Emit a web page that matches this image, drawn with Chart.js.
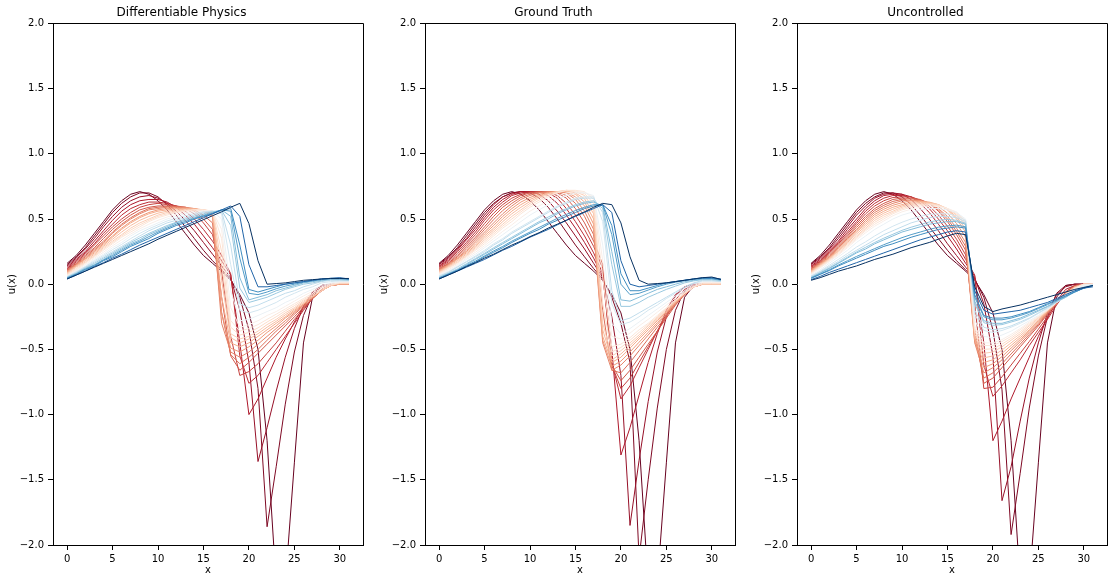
<!DOCTYPE html>
<html>
<head>
<meta charset="utf-8">
<script src="https://cdn.jsdelivr.net/npm/chart.js@4.4.0/dist/chart.umd.min.js"></script>
<style>
  body { margin: 0; background: #fff; }
  #wrap { position: relative; width: 1114px; height: 583px; }
  .panel { position: absolute; top: 0; width: 368px; height: 583px; }
</style>
</head>
<body>
<div id="wrap">
  <div class="panel" style="left:0px"><canvas id="c0" width="368" height="583"></canvas></div>
  <div class="panel" style="left:372px"><canvas id="c1" width="368" height="583"></canvas></div>
  <div class="panel" style="left:744px"><canvas id="c2" width="368" height="583"></canvas></div>
</div>
<script>
// grid points and ticks
const xs = [0,1,2,3,4,5,6,7,8,9,10,11,12,13,14,15,16,17,18,19,20,21,22,23,24,25,26,27,28,29,30,31];
const xTicks = [0, 5, 10, 15, 20, 25, 30];
const yTicks = [-2, -1.5, -1, -0.5, 0, 0.5, 1, 1.5, 2];
const titles = ['Differentiable Physics', 'Ground Truth', 'Uncontrolled'];

// time step of every drawn curve (out of 32), used for the colour
const steps = [0, 1, 2, 3, 4, 5, 6, 7, 8, 9, 10, 11, 12, 13, 14, 15, 17, 19, 20, 22, 23, 25, 26, 29, 32];

const initialState = [0.16,0.22,0.30,0.39,0.48,0.57,0.64,0.69,0.71,0.69,0.64,0.57,0.48,0.39,0.30,0.22,0.16,0.10,0.03,-0.08,-0.22,-0.50,-1.20,-2.30,-2.30,-1.37,-0.45,-0.10,-0.01,0.00,0.00,0.00];

const diffPhysics = [
  initialState,
  [0.15,0.21,0.28,0.37,0.46,0.55,0.62,0.67,0.70,0.70,0.67,0.61,0.53,0.44,0.35,0.26,0.18,0.11,0.04,-0.10,-0.35,-0.80,-1.86,-1.40,-0.92,-0.52,-0.24,-0.08,-0.01,0.00,0.00,0.00],
  [0.14,0.20,0.27,0.35,0.44,0.52,0.59,0.64,0.67,0.68,0.66,0.62,0.56,0.49,0.41,0.32,0.23,0.14,0.05,-0.20,-0.60,-1.36,-1.10,-0.82,-0.56,-0.34,-0.17,-0.06,-0.01,0.00,0.00,0.00],
  [0.13,0.19,0.25,0.33,0.41,0.49,0.56,0.61,0.64,0.65,0.65,0.63,0.59,0.53,0.46,0.37,0.28,0.18,0.07,-0.45,-1.00,-0.88,-0.72,-0.56,-0.42,-0.29,-0.17,-0.08,-0.02,0.00,0.00,0.00],
  [0.12,0.18,0.24,0.31,0.39,0.46,0.53,0.58,0.61,0.63,0.63,0.62,0.60,0.56,0.50,0.42,0.33,0.22,0.08,-0.55,-0.76,-0.70,-0.60,-0.50,-0.40,-0.30,-0.20,-0.11,-0.04,0.00,0.00,0.00],
  [0.115,0.17,0.23,0.30,0.37,0.44,0.50,0.55,0.59,0.61,0.62,0.61,0.60,0.58,0.54,0.47,0.38,0.10,-0.40,-0.70,-0.67,-0.61,-0.53,-0.45,-0.36,-0.27,-0.19,-0.11,-0.04,-0.01,0.00,0.00],
  [0.11,0.16,0.22,0.28,0.35,0.42,0.48,0.53,0.57,0.59,0.60,0.60,0.60,0.59,0.56,0.50,0.42,-0.10,-0.55,-0.66,-0.60,-0.53,-0.46,-0.39,-0.32,-0.25,-0.18,-0.11,-0.05,-0.01,0.00,0.00],
  [0.105,0.155,0.21,0.27,0.33,0.40,0.46,0.51,0.55,0.58,0.59,0.595,0.595,0.59,0.57,0.53,0.47,-0.22,-0.54,-0.61,-0.56,-0.50,-0.43,-0.36,-0.30,-0.23,-0.17,-0.11,-0.05,-0.01,0.00,0.00],
  [0.10,0.15,0.20,0.26,0.32,0.39,0.45,0.50,0.54,0.57,0.58,0.59,0.59,0.59,0.58,0.56,0.52,-0.30,-0.52,-0.56,-0.52,-0.46,-0.40,-0.34,-0.28,-0.22,-0.16,-0.10,-0.05,-0.01,0.00,0.00],
  [0.095,0.145,0.195,0.25,0.31,0.37,0.43,0.48,0.52,0.55,0.57,0.58,0.585,0.585,0.58,0.565,0.54,-0.22,-0.49,-0.52,-0.48,-0.43,-0.37,-0.32,-0.26,-0.21,-0.155,-0.10,-0.05,-0.01,0.00,0.00],
  [0.09,0.14,0.19,0.24,0.30,0.36,0.42,0.47,0.51,0.54,0.56,0.57,0.58,0.58,0.58,0.57,0.55,-0.10,-0.45,-0.48,-0.45,-0.40,-0.35,-0.30,-0.25,-0.20,-0.15,-0.10,-0.05,-0.01,0.00,0.00],
  [0.085,0.135,0.18,0.23,0.29,0.345,0.40,0.45,0.49,0.52,0.545,0.56,0.57,0.575,0.575,0.57,0.555,0.03,-0.41,-0.45,-0.42,-0.38,-0.33,-0.285,-0.235,-0.19,-0.14,-0.095,-0.05,-0.01,0.005,0.005],
  [0.08,0.13,0.17,0.22,0.28,0.33,0.38,0.43,0.47,0.50,0.53,0.55,0.56,0.57,0.57,0.57,0.56,0.15,-0.38,-0.42,-0.40,-0.36,-0.31,-0.27,-0.22,-0.18,-0.13,-0.09,-0.05,-0.01,0.01,0.01],
  [0.075,0.12,0.165,0.215,0.27,0.32,0.37,0.415,0.455,0.49,0.52,0.54,0.555,0.565,0.57,0.57,0.56,0.25,-0.33,-0.39,-0.37,-0.335,-0.29,-0.25,-0.205,-0.165,-0.12,-0.08,-0.04,-0.005,0.01,0.01],
  [0.07,0.11,0.16,0.21,0.26,0.31,0.36,0.40,0.44,0.48,0.51,0.53,0.55,0.56,0.57,0.57,0.56,0.35,-0.28,-0.36,-0.34,-0.31,-0.27,-0.23,-0.19,-0.15,-0.11,-0.07,-0.03,0.00,0.01,0.01],
  [0.065,0.105,0.15,0.20,0.245,0.295,0.34,0.385,0.425,0.46,0.49,0.515,0.535,0.55,0.56,0.565,0.56,0.42,-0.18,-0.33,-0.31,-0.28,-0.24,-0.21,-0.17,-0.13,-0.09,-0.055,-0.02,0.005,0.015,0.015],
  [0.06,0.10,0.14,0.19,0.23,0.28,0.32,0.37,0.41,0.44,0.47,0.50,0.52,0.54,0.55,0.56,0.56,0.50,-0.05,-0.28,-0.27,-0.24,-0.21,-0.18,-0.14,-0.11,-0.07,-0.04,-0.01,0.01,0.02,0.02],
  [0.058,0.095,0.135,0.18,0.22,0.265,0.305,0.35,0.39,0.425,0.455,0.485,0.505,0.525,0.54,0.555,0.56,0.54,0.15,-0.20,-0.22,-0.20,-0.17,-0.14,-0.10,-0.07,-0.04,-0.02,0.01,0.02,0.025,0.025],
  [0.055,0.09,0.13,0.17,0.21,0.25,0.29,0.33,0.37,0.41,0.44,0.47,0.49,0.51,0.53,0.55,0.56,0.56,0.30,-0.15,-0.18,-0.16,-0.13,-0.10,-0.07,-0.05,-0.02,0.00,0.02,0.03,0.03,0.03],
  [0.052,0.085,0.125,0.16,0.20,0.24,0.28,0.32,0.355,0.39,0.42,0.45,0.475,0.50,0.52,0.54,0.555,0.565,0.45,-0.03,-0.14,-0.12,-0.10,-0.07,-0.04,-0.02,0.00,0.01,0.025,0.035,0.035,0.03],
  [0.05,0.08,0.12,0.15,0.19,0.23,0.27,0.31,0.34,0.38,0.41,0.44,0.47,0.49,0.51,0.53,0.55,0.57,0.52,0.05,-0.12,-0.10,-0.08,-0.05,-0.03,-0.01,0.01,0.02,0.03,0.04,0.04,0.035],
  [0.047,0.078,0.115,0.145,0.185,0.22,0.26,0.30,0.33,0.365,0.40,0.43,0.46,0.48,0.505,0.525,0.545,0.57,0.56,0.20,-0.07,-0.08,-0.06,-0.035,-0.015,0.00,0.015,0.025,0.035,0.042,0.042,0.038],
  [0.045,0.075,0.11,0.14,0.18,0.21,0.25,0.29,0.32,0.35,0.39,0.42,0.45,0.47,0.50,0.52,0.54,0.57,0.58,0.30,-0.04,-0.06,-0.04,-0.02,0.00,0.01,0.02,0.03,0.04,0.045,0.045,0.04],
  [0.04,0.07,0.10,0.135,0.165,0.20,0.23,0.265,0.30,0.33,0.36,0.39,0.42,0.45,0.48,0.51,0.54,0.57,0.60,0.52,0.15,-0.02,-0.02,-0.01,0.00,0.01,0.02,0.03,0.04,0.045,0.05,0.04],
  [0.04,0.07,0.10,0.13,0.16,0.19,0.22,0.25,0.28,0.31,0.345,0.375,0.405,0.435,0.465,0.495,0.525,0.555,0.59,0.62,0.465,0.18,0.00,0.005,0.01,0.02,0.03,0.035,0.04,0.044,0.044,0.044]
];

const groundTruth = [
  initialState,
  [0.155,0.21,0.28,0.37,0.46,0.55,0.62,0.67,0.70,0.71,0.70,0.66,0.59,0.50,0.40,0.30,0.21,0.12,0.04,-0.10,-0.30,-0.60,-2.10,-1.50,-0.95,-0.50,-0.20,-0.05,0.00,0.00,0.00,0.00],
  [0.15,0.20,0.27,0.35,0.44,0.53,0.61,0.67,0.70,0.71,0.71,0.69,0.64,0.56,0.47,0.37,0.27,0.16,0.05,-0.25,-0.70,-1.85,-1.35,-0.90,-0.52,-0.25,-0.09,-0.02,0.00,0.00,0.00,0.00],
  [0.14,0.19,0.26,0.34,0.42,0.51,0.59,0.65,0.69,0.71,0.71,0.71,0.68,0.62,0.53,0.43,0.32,0.20,0.06,-0.50,-1.31,-1.10,-0.85,-0.60,-0.38,-0.20,-0.08,-0.02,0.00,0.00,0.00,0.00],
  [0.135,0.18,0.25,0.32,0.40,0.49,0.57,0.63,0.68,0.70,0.71,0.71,0.70,0.66,0.58,0.48,0.37,0.24,0.08,-0.60,-0.88,-0.78,-0.64,-0.50,-0.36,-0.23,-0.12,-0.04,-0.01,0.00,0.00,0.00],
  [0.128,0.17,0.235,0.305,0.38,0.465,0.545,0.61,0.66,0.69,0.705,0.71,0.705,0.68,0.62,0.53,0.42,0.29,0.12,-0.62,-0.80,-0.72,-0.60,-0.48,-0.36,-0.245,-0.14,-0.06,-0.015,0.00,0.00,0.00],
  [0.12,0.16,0.22,0.29,0.36,0.44,0.52,0.59,0.64,0.68,0.70,0.71,0.71,0.70,0.66,0.58,0.47,0.33,0.15,-0.62,-0.74,-0.66,-0.56,-0.46,-0.36,-0.26,-0.16,-0.08,-0.02,0.00,0.00,0.00],
  [0.115,0.155,0.21,0.275,0.345,0.42,0.495,0.565,0.62,0.665,0.69,0.705,0.71,0.705,0.68,0.62,0.52,0.38,-0.20,-0.66,-0.68,-0.60,-0.51,-0.42,-0.33,-0.245,-0.155,-0.08,-0.02,0.00,0.00,0.00],
  [0.11,0.15,0.20,0.26,0.33,0.40,0.47,0.54,0.60,0.65,0.68,0.70,0.71,0.71,0.70,0.65,0.56,0.42,-0.45,-0.66,-0.62,-0.55,-0.47,-0.39,-0.31,-0.23,-0.15,-0.08,-0.02,0.00,0.00,0.00],
  [0.105,0.145,0.195,0.25,0.315,0.385,0.45,0.52,0.58,0.63,0.665,0.69,0.705,0.71,0.705,0.67,0.60,0.46,-0.43,-0.63,-0.59,-0.52,-0.445,-0.37,-0.295,-0.22,-0.145,-0.075,-0.02,0.00,0.00,0.00],
  [0.10,0.14,0.19,0.24,0.30,0.37,0.43,0.50,0.56,0.61,0.65,0.68,0.70,0.71,0.71,0.69,0.63,0.50,-0.40,-0.60,-0.56,-0.49,-0.42,-0.35,-0.28,-0.21,-0.14,-0.07,-0.02,0.00,0.00,0.00],
  [0.095,0.135,0.18,0.23,0.29,0.355,0.415,0.48,0.54,0.59,0.635,0.67,0.695,0.71,0.715,0.70,0.655,0.54,-0.35,-0.58,-0.535,-0.47,-0.405,-0.335,-0.27,-0.20,-0.135,-0.07,-0.02,0.00,0.00,0.00],
  [0.09,0.13,0.17,0.22,0.28,0.34,0.40,0.46,0.52,0.57,0.62,0.66,0.69,0.71,0.72,0.71,0.68,0.58,-0.30,-0.55,-0.51,-0.45,-0.39,-0.32,-0.26,-0.19,-0.13,-0.07,-0.02,0.00,0.00,0.00],
  [0.085,0.125,0.165,0.215,0.27,0.325,0.385,0.445,0.50,0.555,0.605,0.645,0.68,0.705,0.72,0.715,0.695,0.62,-0.15,-0.52,-0.485,-0.43,-0.37,-0.31,-0.25,-0.185,-0.125,-0.07,-0.02,0.005,0.005,0.005],
  [0.08,0.12,0.16,0.21,0.26,0.31,0.37,0.43,0.48,0.54,0.59,0.63,0.67,0.70,0.72,0.72,0.71,0.65,0.05,-0.48,-0.46,-0.41,-0.35,-0.30,-0.24,-0.18,-0.12,-0.07,-0.02,0.01,0.01,0.01],
  [0.075,0.11,0.15,0.20,0.245,0.295,0.35,0.405,0.455,0.51,0.56,0.60,0.64,0.675,0.70,0.71,0.705,0.67,0.18,-0.40,-0.42,-0.375,-0.32,-0.27,-0.215,-0.16,-0.105,-0.06,-0.01,0.015,0.015,0.015],
  [0.07,0.10,0.14,0.19,0.23,0.28,0.33,0.38,0.43,0.48,0.53,0.57,0.61,0.65,0.68,0.70,0.70,0.68,0.30,-0.30,-0.38,-0.34,-0.29,-0.24,-0.19,-0.14,-0.09,-0.05,0.00,0.02,0.02,0.02],
  [0.063,0.093,0.133,0.175,0.217,0.26,0.31,0.35,0.40,0.44,0.48,0.52,0.56,0.60,0.63,0.66,0.67,0.67,0.48,-0.15,-0.31,-0.29,-0.25,-0.20,-0.16,-0.11,-0.07,-0.03,0.005,0.025,0.025,0.02],
  [0.06,0.09,0.13,0.17,0.21,0.25,0.30,0.34,0.39,0.43,0.47,0.51,0.55,0.59,0.62,0.65,0.66,0.66,0.55,-0.05,-0.28,-0.26,-0.22,-0.18,-0.14,-0.10,-0.06,-0.02,0.01,0.03,0.03,0.02],
  [0.053,0.083,0.117,0.157,0.197,0.237,0.28,0.32,0.36,0.40,0.44,0.48,0.515,0.55,0.58,0.61,0.63,0.64,0.58,0.15,-0.17,-0.17,-0.14,-0.10,-0.07,-0.04,-0.015,0.01,0.025,0.035,0.035,0.028],
  [0.05,0.08,0.11,0.15,0.19,0.23,0.27,0.31,0.35,0.39,0.43,0.47,0.50,0.54,0.57,0.60,0.62,0.63,0.60,0.25,-0.12,-0.13,-0.10,-0.07,-0.04,-0.02,0.00,0.02,0.03,0.04,0.04,0.03],
  [0.047,0.077,0.107,0.143,0.177,0.217,0.255,0.29,0.33,0.365,0.40,0.435,0.47,0.505,0.535,0.565,0.59,0.61,0.61,0.38,0.00,-0.08,-0.07,-0.045,-0.02,0.00,0.015,0.028,0.038,0.043,0.043,0.033],
  [0.045,0.075,0.105,0.14,0.17,0.21,0.245,0.28,0.32,0.355,0.39,0.42,0.46,0.49,0.52,0.55,0.58,0.60,0.61,0.45,0.08,-0.05,-0.05,-0.03,-0.01,0.01,0.02,0.03,0.04,0.045,0.045,0.035],
  [0.04,0.07,0.10,0.13,0.16,0.19,0.225,0.26,0.29,0.325,0.36,0.39,0.42,0.455,0.49,0.52,0.55,0.58,0.61,0.55,0.18,0.00,-0.02,-0.01,0.00,0.01,0.02,0.03,0.04,0.05,0.05,0.04],
  [0.04,0.07,0.10,0.135,0.165,0.20,0.23,0.265,0.30,0.33,0.365,0.395,0.43,0.46,0.49,0.525,0.555,0.59,0.62,0.61,0.47,0.21,0.03,0.00,0.005,0.01,0.02,0.03,0.04,0.05,0.055,0.036]
];

const uncontrolled = [
  initialState,
  [0.155,0.21,0.28,0.37,0.46,0.55,0.62,0.67,0.70,0.70,0.67,0.61,0.53,0.44,0.35,0.26,0.18,0.11,0.04,-0.10,-0.35,-0.81,-1.92,-1.45,-0.95,-0.55,-0.25,-0.07,-0.01,0.00,0.00,0.00],
  [0.15,0.20,0.27,0.35,0.44,0.53,0.60,0.66,0.69,0.70,0.69,0.65,0.58,0.50,0.41,0.31,0.22,0.13,0.05,-0.15,-0.55,-1.66,-1.40,-1.05,-0.72,-0.45,-0.22,-0.08,-0.02,0.00,0.00,0.00],
  [0.14,0.19,0.26,0.33,0.42,0.50,0.58,0.64,0.68,0.69,0.69,0.67,0.62,0.55,0.46,0.37,0.27,0.16,0.06,-0.45,-1.20,-1.05,-0.88,-0.72,-0.56,-0.40,-0.26,-0.13,-0.04,-0.01,0.00,0.00],
  [0.135,0.18,0.25,0.32,0.40,0.48,0.56,0.62,0.66,0.68,0.68,0.67,0.64,0.58,0.50,0.41,0.31,0.19,0.07,-0.62,-0.86,-0.78,-0.68,-0.58,-0.47,-0.37,-0.27,-0.16,-0.06,-0.01,0.00,0.00],
  [0.128,0.175,0.24,0.31,0.385,0.465,0.54,0.60,0.64,0.665,0.67,0.67,0.645,0.60,0.53,0.445,0.345,0.225,-0.15,-0.80,-0.79,-0.71,-0.62,-0.53,-0.44,-0.345,-0.25,-0.15,-0.06,-0.01,0.00,0.00],
  [0.12,0.17,0.23,0.30,0.37,0.45,0.52,0.58,0.62,0.65,0.66,0.66,0.65,0.62,0.56,0.48,0.38,0.26,-0.35,-0.76,-0.72,-0.64,-0.56,-0.48,-0.40,-0.32,-0.23,-0.14,-0.06,-0.01,0.00,0.00],
  [0.115,0.165,0.22,0.29,0.36,0.435,0.505,0.565,0.605,0.635,0.65,0.655,0.645,0.62,0.57,0.50,0.405,0.29,-0.40,-0.72,-0.68,-0.61,-0.535,-0.46,-0.385,-0.31,-0.225,-0.145,-0.065,-0.015,0.00,0.00],
  [0.11,0.16,0.21,0.28,0.35,0.42,0.49,0.55,0.59,0.62,0.64,0.645,0.64,0.62,0.58,0.52,0.43,0.32,-0.45,-0.68,-0.64,-0.58,-0.51,-0.44,-0.37,-0.30,-0.22,-0.15,-0.07,-0.02,0.00,0.00],
  [0.105,0.155,0.205,0.27,0.34,0.41,0.475,0.535,0.575,0.605,0.625,0.64,0.64,0.625,0.595,0.545,0.465,0.36,-0.44,-0.64,-0.61,-0.555,-0.49,-0.425,-0.36,-0.29,-0.215,-0.145,-0.07,-0.02,0.00,0.00],
  [0.10,0.15,0.20,0.26,0.33,0.40,0.46,0.52,0.56,0.59,0.61,0.63,0.635,0.63,0.61,0.57,0.50,0.40,-0.42,-0.60,-0.58,-0.53,-0.47,-0.41,-0.35,-0.28,-0.21,-0.14,-0.07,-0.02,0.00,0.00],
  [0.095,0.145,0.195,0.255,0.32,0.385,0.445,0.505,0.545,0.575,0.60,0.62,0.628,0.625,0.61,0.575,0.515,0.425,-0.40,-0.565,-0.55,-0.505,-0.45,-0.395,-0.335,-0.27,-0.205,-0.14,-0.075,-0.025,0.00,0.00],
  [0.09,0.14,0.19,0.25,0.31,0.37,0.43,0.49,0.53,0.56,0.59,0.61,0.62,0.62,0.61,0.58,0.53,0.45,-0.38,-0.53,-0.52,-0.48,-0.43,-0.38,-0.32,-0.26,-0.20,-0.14,-0.08,-0.03,0.00,0.00],
  [0.085,0.135,0.185,0.24,0.30,0.36,0.42,0.475,0.515,0.55,0.58,0.60,0.61,0.615,0.605,0.58,0.54,0.465,-0.36,-0.50,-0.495,-0.46,-0.415,-0.365,-0.31,-0.255,-0.20,-0.14,-0.08,-0.03,0.00,0.00],
  [0.08,0.13,0.18,0.23,0.29,0.35,0.41,0.46,0.50,0.54,0.57,0.59,0.60,0.61,0.60,0.58,0.55,0.48,-0.34,-0.47,-0.47,-0.44,-0.40,-0.35,-0.30,-0.25,-0.20,-0.14,-0.08,-0.03,0.00,0.00],
  [0.077,0.125,0.173,0.223,0.28,0.34,0.395,0.445,0.485,0.525,0.555,0.575,0.59,0.60,0.595,0.58,0.555,0.49,-0.32,-0.45,-0.45,-0.425,-0.385,-0.34,-0.29,-0.245,-0.195,-0.14,-0.085,-0.035,-0.005,0.00],
  [0.07,0.11,0.16,0.21,0.26,0.32,0.37,0.42,0.46,0.50,0.53,0.55,0.57,0.58,0.58,0.57,0.55,0.50,-0.28,-0.40,-0.41,-0.39,-0.36,-0.32,-0.28,-0.24,-0.19,-0.14,-0.09,-0.04,-0.01,0.00],
  [0.063,0.10,0.145,0.19,0.235,0.285,0.325,0.37,0.41,0.445,0.475,0.50,0.52,0.535,0.54,0.54,0.525,0.49,-0.23,-0.355,-0.37,-0.355,-0.33,-0.30,-0.265,-0.225,-0.185,-0.14,-0.095,-0.05,-0.02,-0.005],
  [0.06,0.095,0.135,0.175,0.22,0.26,0.30,0.34,0.38,0.41,0.44,0.47,0.49,0.51,0.52,0.52,0.51,0.48,-0.20,-0.33,-0.35,-0.34,-0.32,-0.29,-0.26,-0.22,-0.18,-0.14,-0.10,-0.05,-0.02,-0.01],
  [0.053,0.088,0.125,0.165,0.207,0.248,0.283,0.32,0.353,0.383,0.413,0.437,0.457,0.477,0.49,0.497,0.49,0.467,-0.15,-0.295,-0.315,-0.31,-0.29,-0.27,-0.24,-0.207,-0.173,-0.133,-0.10,-0.057,-0.027,-0.01],
  [0.05,0.085,0.12,0.16,0.20,0.24,0.27,0.31,0.34,0.37,0.40,0.42,0.44,0.46,0.47,0.48,0.48,0.46,-0.13,-0.28,-0.30,-0.30,-0.28,-0.26,-0.23,-0.20,-0.17,-0.13,-0.10,-0.06,-0.03,-0.01],
  [0.047,0.078,0.11,0.147,0.18,0.213,0.243,0.273,0.303,0.33,0.357,0.38,0.40,0.42,0.437,0.447,0.453,0.44,-0.10,-0.25,-0.273,-0.273,-0.26,-0.24,-0.217,-0.187,-0.157,-0.123,-0.093,-0.06,-0.03,-0.01],
  [0.045,0.075,0.105,0.14,0.17,0.20,0.23,0.26,0.29,0.31,0.335,0.36,0.38,0.40,0.42,0.43,0.44,0.43,-0.08,-0.24,-0.26,-0.26,-0.25,-0.23,-0.21,-0.18,-0.15,-0.12,-0.09,-0.06,-0.03,-0.01],
  [0.035,0.06,0.09,0.115,0.14,0.165,0.19,0.215,0.24,0.265,0.29,0.315,0.34,0.36,0.38,0.40,0.41,0.40,-0.05,-0.20,-0.23,-0.22,-0.21,-0.20,-0.18,-0.16,-0.14,-0.11,-0.08,-0.05,-0.03,-0.02],
  [0.03,0.05,0.075,0.10,0.12,0.14,0.165,0.19,0.21,0.23,0.255,0.28,0.30,0.32,0.345,0.37,0.39,0.38,-0.02,-0.17,-0.21,-0.19,-0.175,-0.16,-0.14,-0.12,-0.10,-0.08,-0.06,-0.04,-0.025,-0.01]
];

// matplotlib RdBu colour stops
const RDBU = [[103,0,31],[178,24,43],[214,96,77],[244,165,130],[253,219,199],[247,247,247],
              [209,229,240],[146,197,222],[67,147,195],[33,102,172],[5,48,97]];
function rdbu(f) {
  const p = Math.min(Math.max(f, 0), 1) * (RDBU.length - 1);
  const i = Math.min(Math.floor(p), RDBU.length - 2);
  const k = p - i;
  const c = RDBU[i].map((v, j) => Math.round(v + (RDBU[i + 1][j] - v) * k));
  return 'rgb(' + c.join(',') + ')';
}

const FONT = 'DejaVu Sans';

// top and right spines
const frame = {
  id: 'frame',
  afterDraw(chart) {
    const { ctx, chartArea: a } = chart;
    ctx.save();
    ctx.strokeStyle = '#000';
    ctx.lineWidth = 1;
    ctx.beginPath();
    const t = Math.floor(a.top) + 0.5, r = Math.floor(a.right) + 0.5;
    ctx.moveTo(a.left, t);
    ctx.lineTo(r, t);
    ctx.lineTo(r, a.bottom);
    ctx.stroke();
    ctx.restore();
  }
};

function makeChart(id, title, lines) {
  new Chart(document.getElementById(id), {
    type: 'line',
    data: {
      datasets: lines.map((ys, i) => ({
        data: ys.map((y, j) => ({ x: xs[j], y: y })),
        borderColor: rdbu(steps[i] / 32),
        borderWidth: 1,
        pointRadius: 0,
        tension: 0,
        fill: false,
        order: lines.length - i
      }))
    },
    options: {
      responsive: false,
      animation: false,
      devicePixelRatio: 1,
      layout: { padding: { left: 0, right: 5, top: 0, bottom: 0 } },
      plugins: {
        legend: { display: false },
        tooltip: { enabled: false },
        title: {
          display: true, text: title, color: '#000',
          font: { family: FONT, size: 12, weight: 'normal' },
          padding: { top: 6, bottom: 3 }
        }
      },
      scales: {
        x: {
          type: 'linear', min: -1.55, max: 32.55,
          afterBuildTicks: s => { s.ticks = xTicks.map(v => ({ value: v })); },
          afterFit: s => { s.height = 38; },
          ticks: { color: '#000', font: { family: FONT, size: 10 }, padding: 3, maxRotation: 0, autoSkip: false },
          grid: { drawOnChartArea: false, tickLength: 5, color: '#000' },
          border: { color: '#000' },
          title: { display: true, text: 'x', color: '#000', font: { family: FONT, size: 10 }, padding: { top: 0, bottom: 7 } }
        },
        y: {
          min: -2, max: 2,
          afterBuildTicks: s => { s.ticks = yTicks.map(v => ({ value: v })); },
          afterFit: s => { s.width = 53; },
          ticks: {
            color: '#000', font: { family: FONT, size: 10 }, padding: 4,
            callback: v => (v < 0 ? '\u2212' : '') + Math.abs(v).toFixed(1)
          },
          grid: { drawOnChartArea: false, tickLength: 5, color: '#000' },
          border: { color: '#000' },
          title: { display: true, text: 'u(x)', color: '#000', font: { family: FONT, size: 10 }, padding: { top: 6, bottom: 0 } }
        }
      }
    },
    plugins: [frame]
  });
}

makeChart('c0', titles[0], diffPhysics);
makeChart('c1', titles[1], groundTruth);
makeChart('c2', titles[2], uncontrolled);
</script>
</body>
</html>
